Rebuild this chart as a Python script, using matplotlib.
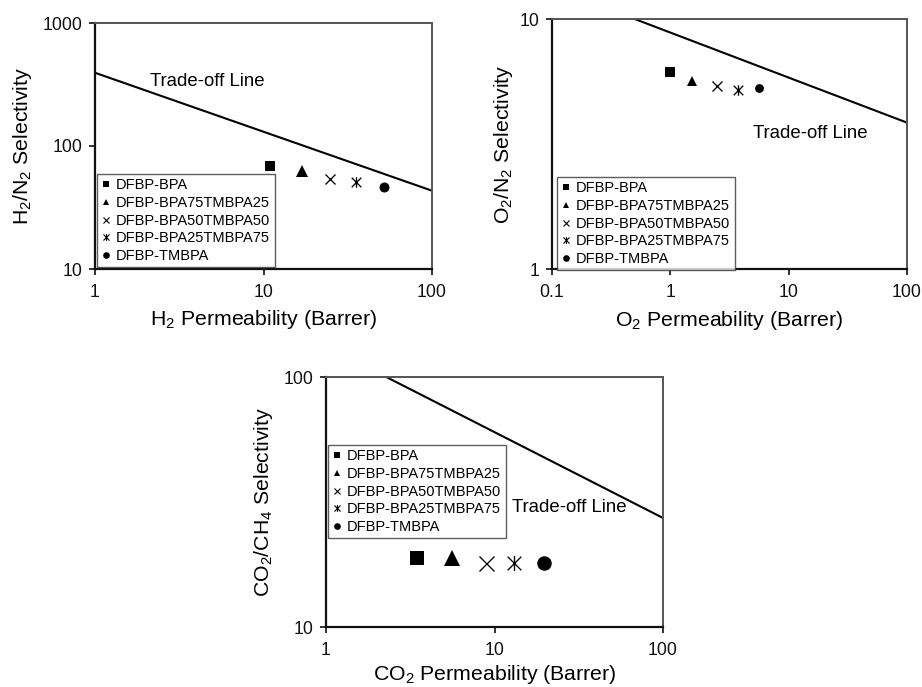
import matplotlib
matplotlib.use("Agg")
import matplotlib.pyplot as plt
from matplotlib.lines import Line2D
from matplotlib.path import Path

plt.rcParams['font.family'] = ['Liberation Sans', 'DejaVu Sans']
plt.rcParams['mathtext.fontset'] = 'custom'
plt.rcParams['mathtext.rm'] = 'Liberation Sans'
plt.rcParams['mathtext.it'] = 'Liberation Sans:italic'
plt.rcParams['mathtext.bf'] = 'Liberation Sans:bold'

# ---------------- data ----------------
series_names = ["DFBP-BPA", "DFBP-BPA75TMBPA25", "DFBP-BPA50TMBPA50",
                "DFBP-BPA25TMBPA75", "DFBP-TMBPA"]

# H2/N2
h2_perm = [10.9, 16.9, 24.8, 35.4, 51.7]
h2n2_sel = [69, 62.6, 53.6, 50.7, 46.4]
h2_tradeoff_x = [1, 100]
h2_tradeoff_y = [394, 43.3]

# O2/N2
o2_perm = [1.0, 1.53, 2.5, 3.73, 5.65]
o2n2_sel = [6.13, 5.66, 5.41, 5.22, 5.32]
o2_tradeoff_x = [0.5, 100]
o2_tradeoff_y = [10, 3.85]

# CO2/CH4
co2_perm = [3.47, 5.6, 8.86, 13.0, 19.8]
co2ch4_sel = [18.9, 18.8, 18.0, 18.0, 18.0]
co2_tradeoff_x = [2.28, 100]
co2_tradeoff_y = [100, 27.3]

# asterisk marker: an X with a vertical bar
asterisk = Path([(-0.5, -0.5), (0.5, 0.5), (-0.5, 0.5), (0.5, -0.5),
                 (0, -0.55), (0, 0.55)],
                [Path.MOVETO, Path.LINETO, Path.MOVETO, Path.LINETO,
                 Path.MOVETO, Path.LINETO])
markers = ['s', '^', 'x', asterisk, 'o']
line_markers = [False, False, True, True, False]

W, H = 922, 687
fig = plt.figure(figsize=(W / 100, H / 100), dpi=100)


def add_ax(l, r, t, b):
    return fig.add_axes([l / W, 1 - b / H, (r - l) / W, (b - t) / H])


def style(ax, xlim, ylim, xticks, yticks, xlabel, ylabel, xlc, ylc):
    ax.set_xscale('log')
    ax.set_yscale('log')
    ax.set_xlim(*xlim)
    ax.set_ylim(*ylim)
    ax.set_xticks(xticks)
    ax.set_xticklabels([('%g' % v) for v in xticks])
    ax.set_yticks(yticks)
    ax.set_yticklabels([('%g' % v) for v in yticks])
    ax.minorticks_off()
    ax.tick_params(axis='both', direction='out', length=4, width=1.2,
                   labelsize=12.7, pad=5, colors='#111111')
    ax.tick_params(axis='x', pad=7)
    for s in ['left', 'bottom']:
        ax.spines[s].set_linewidth(1.6)
        ax.spines[s].set_color('#111111')
    for s in ['top', 'right']:
        ax.spines[s].set_linewidth(1.4)
        ax.spines[s].set_color('#555555')
    ax.set_xlabel(xlabel, fontsize=15.3)
    ax.set_ylabel(ylabel, fontsize=15.3)
    ax.xaxis.label.set_va('center')
    ax.yaxis.label.set_va('center')
    ax.xaxis.set_label_coords(0.5, xlc)
    ax.yaxis.set_label_coords(ylc, 0.5)


def points(ax, xs, ys, sizes_px):
    handles = []
    for i, (x, y) in enumerate(zip(xs, ys)):
        m = markers[i]
        ms = sizes_px[i] * 0.72
        if line_markers[i]:
            ax.plot([x], [y], linestyle='none', marker=m, color='black',
                    markersize=ms, markeredgewidth=0.95)
        else:
            ax.plot([x], [y], linestyle='none', marker=m, color='black',
                    markersize=ms, markeredgewidth=0)
        handles.append(Line2D([], [], linestyle='none', marker=m, color='black',
                              markersize=4.8,
                              markeredgewidth=0.8 if line_markers[i] else 0,
                              label=series_names[i]))
    return handles


def legend(handles, l, t):
    leg = fig.legend(handles=handles, loc='upper left',
                     bbox_to_anchor=(l / W, 1 - t / H), fontsize=10.5,
                     frameon=True, fancybox=False, borderpad=0.3,
                     handlelength=0.6, handletextpad=0.4, labelspacing=0.25,
                     borderaxespad=0)
    leg.get_frame().set_edgecolor('#333333')
    leg.get_frame().set_linewidth(1.0)
    return leg


def tradeoff_label(x, y):
    fig.text(x / W, 1 - y / H, 'Trade-off Line', fontsize=13.4,
             va='center', ha='left')


# ---------- panel 1 ----------
ax1 = add_ax(95, 432, 23, 269)
ax1.plot(h2_tradeoff_x, h2_tradeoff_y, color='black', linewidth=1.5)
h = points(ax1, h2_perm, h2n2_sel, [10.5, 11.5, 10, 10.5, 10])
style(ax1, (1, 100), (10, 1000), [1, 10, 100], [10, 100, 1000],
      r'H$_2$ Permeability (Barrer)', r'H$_2$/N$_2$ Selectivity',
      -0.207, -0.214)
legend(h, 97, 174)
tradeoff_label(150, 81.7)

# ---------- panel 2 ----------
ax2 = add_ax(552, 907, 19, 269)
ax2.plot(o2_tradeoff_x, o2_tradeoff_y, color='black', linewidth=1.5)
h = points(ax2, o2_perm, o2n2_sel, [10, 10.5, 10, 10.5, 8.8])
style(ax2, (0.1, 100), (1, 10), [0.1, 1, 10, 100], [1, 10],
      r'O$_2$ Permeability (Barrer)', r'O$_2$/N$_2$ Selectivity',
      -0.206, -0.138)
legend(h, 557, 177)
tradeoff_label(753, 133.3)

# ---------- panel 3 ----------
ax3 = add_ax(326, 663, 377, 627)
ax3.plot(co2_tradeoff_x, co2_tradeoff_y, color='black', linewidth=1.5)
h = points(ax3, co2_perm, co2ch4_sel, [14, 15.5, 15, 15, 14.5])
style(ax3, (1, 100), (10, 100), [1, 10, 100], [10, 100],
      r'CO$_2$ Permeability (Barrer)', r'CO$_2$/CH$_4$ Selectivity',
      -0.191, -0.185)
legend(h, 328, 445)
tradeoff_label(512, 507.7)

fig.savefig('out.png', dpi=100)
